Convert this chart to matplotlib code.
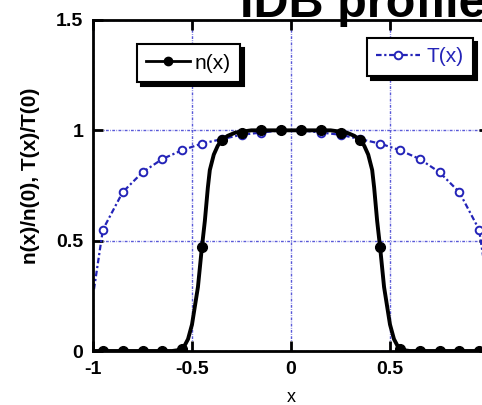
import matplotlib
matplotlib.use("Agg")
import matplotlib.pyplot as plt

plt.rcParams["font.family"] = ["Liberation Sans", "DejaVu Sans"]

# n(x) markers (every 0.1) and the smooth line through them
n_x = [-0.95, -0.85, -0.75, -0.65, -0.55, -0.45, -0.35, -0.25, -0.15, -0.05,
       0.05, 0.15, 0.25, 0.35, 0.45, 0.55, 0.65, 0.75, 0.85, 0.95]
n_y = [0, 0, 0, 0, 0.01, 0.47, 0.955, 0.99, 1.0, 1.0,
       1.0, 1.0, 0.99, 0.955, 0.47, 0.01, 0, 0, 0, 0]
n_line_x = [-1.0, -0.6, -0.56, -0.54, -0.52, -0.5, -0.47, -0.45, -0.435, -0.42,
            -0.41, -0.39, -0.37, -0.35, -0.32, -0.28, -0.2,
            0.2, 0.28, 0.32, 0.35, 0.37, 0.39, 0.41, 0.42, 0.435,
            0.45, 0.47, 0.5, 0.52, 0.54, 0.56, 0.6, 1.0]
n_line_y = [0, 0, 0.005, 0.02, 0.054, 0.12, 0.29, 0.47, 0.59, 0.74,
            0.82, 0.89, 0.93, 0.955, 0.975, 0.99, 1.0,
            1.0, 0.99, 0.975, 0.955, 0.93, 0.89, 0.82, 0.74, 0.59,
            0.47, 0.29, 0.12, 0.054, 0.02, 0.005, 0, 0]

# T(x) markers and line
T_x = n_x
T_y = [0.55, 0.72, 0.81, 0.87, 0.91, 0.94, 0.96, 0.98, 0.99, 1.0,
       1.0, 0.99, 0.98, 0.96, 0.94, 0.91, 0.87, 0.81, 0.72, 0.55]
T_line_x = [-0.995, -0.98, -0.965] + T_x + [0.965, 0.98, 0.995]
T_line_y = [0.28, 0.37, 0.46] + T_y + [0.46, 0.37, 0.28]

blue = "#2424b8"
grid_blue = "#5a5ad8"

fig = plt.figure(figsize=(4.82, 4.05), dpi=100)
ax = fig.add_axes([93 / 482, 54 / 405, 396 / 482, 331 / 405])

ax.plot(T_line_x, T_line_y, color=blue, lw=1.6, dashes=(2.5, 1.2, 1, 1.2),
        marker="o", markevery=list(range(3, 23)), ms=5.5, mfc="white",
        mec=blue, mew=1.4, label="T(x)")
ax.plot(n_line_x, n_line_y, color="black", lw=2.8, zorder=3)
ax.plot(n_x, n_y, ls="none", marker="o", ms=7, color="black", zorder=4)
h_n, = ax.plot([], [], color="black", lw=2, marker="o", ms=6, label="n(x)")

ax.set_xlim(-1, 1)
ax.set_ylim(0, 1.5)
ax.set_xticks([-1, -0.5, 0, 0.5, 1])
ax.set_xticklabels(["-1", "-0.5", "0", "0.5", ""])
ax.set_yticks([0, 0.5, 1, 1.5])
ax.set_yticklabels(["0", "0.5", "1", "1.5"])
ax.grid(True, color=grid_blue, lw=1, ls=(0, (2, 1, 0.5, 1)))
for s in ax.spines.values():
    s.set_linewidth(2)
ax.tick_params(direction="in", length=7, width=2, top=True, right=True,
               labelsize=14, pad=7)
for lab in ax.get_xticklabels() + ax.get_yticklabels():
    lab.set_fontweight("bold")

ax.set_ylabel("n(x)/n(0), T(x)/T(0)", fontsize=15, fontweight="bold")
ax.yaxis.set_label_coords(-0.135, 0.53)
ax.set_xlabel("x", fontsize=13, labelpad=8)

shadow = {"color": "black", "alpha": 1, "ox": 3, "oy": -3}
leg1 = ax.legend(handles=[h_n], loc="upper left", bbox_to_anchor=(0.111, 0.927),
                 borderaxespad=0, fancybox=False, edgecolor="black", framealpha=1,
                 shadow=shadow, fontsize=15, handlelength=2.1, handletextpad=0.2,
                 borderpad=0.45)
leg1.get_frame().set_linewidth(1.5)
ax.add_artist(leg1)
T_handle = ax.get_lines()[0]
leg2 = ax.legend(handles=[T_handle], loc="upper left", bbox_to_anchor=(0.692, 0.946),
                 borderaxespad=0, fancybox=False, edgecolor="black", framealpha=1,
                 shadow=shadow, fontsize=15, handlelength=2.1, handletextpad=0.3,
                 borderpad=0.45, labelcolor=blue)
leg2.get_frame().set_linewidth(1.5)

fig.text(240 / 482, (405 - 17) / 405, "IDB profile", fontsize=35,
         fontweight="bold", va="baseline", ha="left")

fig.savefig("out.png", dpi=100)
